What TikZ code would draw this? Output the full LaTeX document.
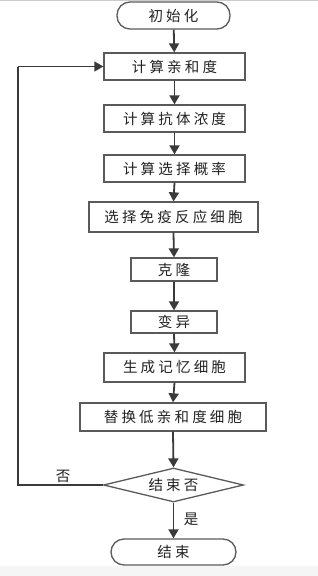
\documentclass[tikz,border=0pt]{standalone}
\usepackage{fontspec}
\newfontfamily\cjk[LetterSpace=22]{Noto Sans CJK SC}
\usetikzlibrary{arrows.meta,shapes.geometric}
\definecolor{ln}{HTML}{3A3A3A}
\definecolor{bx}{HTML}{5A5A5A}
\definecolor{tx}{HTML}{222222}
\tikzset{
  box/.style={draw=bx,line width=1.3pt,rectangle,inner sep=0pt,text=tx,font=\cjk\fontsize{14.5}{16}\selectfont},
  term/.style={box,rounded corners=13pt},
  dia/.style={draw=bx,line width=1.3pt,diamond,inner sep=0pt,text=tx,font=\cjk\fontsize{14.5}{16}\selectfont},
  arr/.style={draw=ln,line width=1.8pt,-{Triangle[length=9pt,width=10pt]}},
  lbl/.style={text=tx,font=\cjk\fontsize{14.5}{16}\selectfont,inner sep=0pt}
}
\begin{document}
\begin{tikzpicture}[x=1pt,y=1pt]
\useasboundingbox (0,0) rectangle (318,-576);
\fill[white] (0,0) rectangle (318,-576);
\fill[gray!8] (0,-566) rectangle (318,-576);
\draw[gray!40,line width=0.8pt] (0,-0.6) -- (318,-0.6);
\node[term,minimum width=113pt,minimum height=27pt] (n0) at (173.5,-15.5) {初始化};
\node[box,minimum width=141pt,minimum height=27pt] (n1) at (174.5,-66.5) {计算亲和度};
\node[box,minimum width=141pt,minimum height=27pt] (n2) at (174.5,-118.5) {计算抗体浓度};
\node[box,minimum width=141pt,minimum height=27pt] (n3) at (174.5,-168.5) {计算选择概率};
\node[box,minimum width=169pt,minimum height=30pt] (n4) at (173.5,-217) {选择免疫反应细胞};
\node[box,minimum width=86pt,minimum height=23pt] (n5) at (174,-269.5) {克隆};
\node[box,minimum width=86pt,minimum height=22pt] (n6) at (174,-322) {变异};
\node[box,minimum width=141pt,minimum height=29pt] (n7) at (174.5,-367.5) {生成记忆细胞};
\node[box,minimum width=186pt,minimum height=28pt] (n8) at (173,-417) {替换低亲和度细胞};
\node[dia,minimum width=140pt,minimum height=34pt,shape aspect=4] (n9) at (173.5,-485) {结束否};
\node[term,minimum width=125pt,minimum height=26pt] (n10) at (173.5,-552) {结束};
\coordinate (c1) at (18,-485);
\coordinate (c2) at (18,-66.5);
\draw[arr] (n0) -- (n1);
\draw[arr] (n1) -- (n2);
\draw[arr] (n2) -- (n3);
\draw[arr] (n3.south) -- (n4.north);
\draw[arr] (n4.south) -- (n5.north);
\draw[arr] (n5.south) -- (n6.north);
\draw[arr] (n6.south) -- (n7.north);
\draw[arr] (n7.south) -- (n8.north);
\draw[arr] (n8.south) -- (n9.north);
\draw[arr] (n9.south) -- (n10.north);
\draw[draw=ln,line width=1.3pt] (n9.west) -- (c1) -- (c2);
\draw[arr,line width=1.3pt] (c2) -- (n1.west);
\node[lbl] (l1) at (63,-476) {否};
\node[lbl] (l2) at (191,-519) {是};
\end{tikzpicture}
\end{document}
